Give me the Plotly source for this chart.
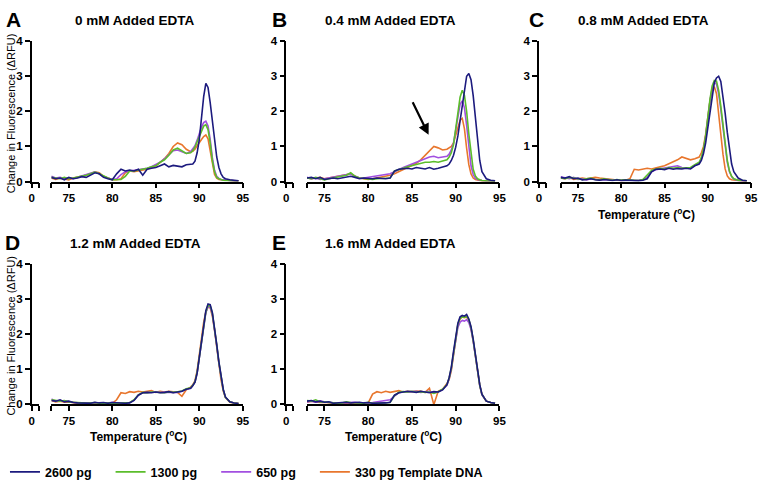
import plotly.graph_objects as go

# temperature grid shared by every melt curve (deg C)
temps = [73, 73.5, 74, 74.5, 75, 75.5, 76, 76.5, 77, 77.5, 78, 78.5, 79, 79.5, 80, 80.5,
         81, 81.5, 82, 82.5, 83, 83.5, 84, 84.5, 85, 85.5, 86, 86.5, 87, 87.5, 88, 88.5,
         89, 89.25, 89.5, 89.75, 90, 90.25, 90.5, 90.75, 91, 91.25, 91.5, 91.75, 92, 92.25,
         92.5, 92.75, 93, 93.5, 94, 94.5]

series_names = ['2600 pg', '1300 pg', '650 pg', '330 pg Template DNA']
panel_titles = ['0 mM Added EDTA', '0.4 mM Added EDTA', '0.8 mM Added EDTA',
                '1.2 mM Added EDTA', '1.6 mM Added EDTA']
panel_letters = ['A', 'B', 'C', 'D', 'E']
y_ticks = [0, 1, 2, 3, 4]
x_ticks = [73, 75, 80, 85, 90, 95]
x_ticktext = ['', '75', '80', '85', '90', '95']

# panel A - 0 mM
a_2600 = [0.12, 0.08, 0.10, 0.05, 0.12, 0.08, 0.10, 0.14, 0.12, 0.18, 0.25, 0.22, 0.12, 0.08, 0.05, 0.22,
          0.35, 0.30, 0.33, 0.30, 0.35, 0.18, 0.35, 0.38, 0.40, 0.45, 0.50, 0.42, 0.46, 0.44, 0.42, 0.48,
          0.48, 0.50, 0.58, 0.82, 1.20, 1.80, 2.42, 2.80, 2.68, 2.25, 1.70, 1.15, 0.70, 0.40, 0.22, 0.12, 0.08,
          0.05, 0.04, 0.02]
a_1300 = [0.12, 0.10, 0.08, 0.12, 0.08, 0.10, 0.12, 0.15, 0.18, 0.22, 0.27, 0.22, 0.15, 0.10, 0.05, 0.05,
          0.06, 0.15, 0.30, 0.30, 0.32, 0.35, 0.38, 0.42, 0.45, 0.55, 0.62, 0.75, 0.90, 0.95, 0.88, 0.80,
          0.82, 0.88, 0.98, 1.12, 1.30, 1.45, 1.58, 1.62, 1.48, 1.10, 0.60, 0.28, 0.12, 0.08, 0.05, 0.04, 0.03,
          0.03, 0.02, 0.02]
a_650 = [0.15, 0.10, 0.12, 0.08, 0.10, 0.08, 0.12, 0.16, 0.20, 0.24, 0.28, 0.22, 0.14, 0.10, 0.06, 0.08,
         0.20, 0.28, 0.30, 0.32, 0.33, 0.36, 0.38, 0.42, 0.48, 0.55, 0.65, 0.78, 0.88, 0.90, 0.85, 0.80,
         0.85, 0.92, 1.02, 1.18, 1.38, 1.55, 1.68, 1.72, 1.58, 1.20, 0.68, 0.32, 0.15, 0.09, 0.06, 0.05, 0.04,
         0.03, 0.02, 0.02]
a_330 = [0.10, 0.06, 0.10, 0.08, 0.05, 0.10, 0.12, 0.15, 0.18, 0.22, 0.28, 0.25, 0.15, 0.10, 0.05, 0.05,
         0.08, 0.25, 0.30, 0.28, 0.30, 0.32, 0.35, 0.40, 0.45, 0.55, 0.65, 0.80, 1.00, 1.10, 1.05, 0.92,
         0.85, 0.86, 0.92, 1.02, 1.12, 1.20, 1.28, 1.33, 1.22, 0.88, 0.45, 0.20, 0.10, 0.06, 0.05, 0.04, 0.03,
         0.03, 0.02, 0.02]

# panel B - 0.4 mM
b_2600 = [0.10, 0.12, 0.08, 0.12, 0.06, 0.08, 0.10, 0.08, 0.10, 0.12, 0.15, 0.12, 0.08, 0.10, 0.08, 0.08,
          0.10, 0.08, 0.08, 0.10, 0.30, 0.35, 0.36, 0.38, 0.36, 0.40, 0.38, 0.36, 0.40, 0.35, 0.38, 0.42,
          0.45, 0.50, 0.60, 0.75, 0.98, 1.30, 1.75, 2.25, 2.70, 3.00, 3.08, 2.90, 2.45, 1.80, 1.15, 0.60, 0.28,
          0.08, 0.04, 0.02]
b_1300 = [0.10, 0.08, 0.12, 0.08, 0.05, 0.08, 0.10, 0.12, 0.15, 0.18, 0.25, 0.15, 0.10, 0.08, 0.08, 0.06,
          0.08, 0.08, 0.10, 0.10, 0.30, 0.35, 0.38, 0.42, 0.45, 0.48, 0.52, 0.55, 0.55, 0.57, 0.55, 0.58,
          0.62, 0.70, 0.82, 1.05, 1.45, 1.95, 2.40, 2.60, 2.45, 2.00, 1.35, 0.75, 0.35, 0.16, 0.08, 0.05, 0.03,
          0.02, 0.02, 0.01]
b_650 = [0.12, 0.08, 0.10, 0.06, 0.08, 0.10, 0.12, 0.14, 0.16, 0.20, 0.22, 0.15, 0.10, 0.10, 0.12, 0.12,
         0.15, 0.18, 0.20, 0.22, 0.28, 0.35, 0.40, 0.45, 0.50, 0.55, 0.62, 0.66, 0.70, 0.72, 0.68, 0.70,
         0.72, 0.78, 0.90, 1.10, 1.45, 1.85, 2.20, 2.30, 2.10, 1.60, 0.95, 0.45, 0.20, 0.10, 0.06, 0.04, 0.03,
         0.02, 0.02, 0.01]
b_330 = [0.10, 0.08, 0.10, 0.12, 0.08, 0.10, 0.12, 0.15, 0.18, 0.20, 0.22, 0.15, 0.10, 0.08, 0.06, 0.08,
         0.10, 0.12, 0.15, 0.18, 0.22, 0.28, 0.32, 0.38, 0.45, 0.52, 0.62, 0.75, 0.90, 1.00, 0.96, 0.90,
         0.92, 0.95, 1.00, 1.10, 1.30, 1.55, 1.75, 1.80, 1.50, 0.95, 0.48, 0.22, 0.10, 0.06, 0.04, 0.03, 0.02,
         0.02, 0.01, 0.01]

# panel C - 0.8 mM
c_2600 = [0.12, 0.10, 0.14, 0.08, 0.10, 0.05, 0.06, 0.08, 0.05, 0.04, 0.06, 0.04, 0.03, 0.05, 0.03, 0.04,
          0.03, 0.03, 0.02, 0.04, 0.08, 0.28, 0.35, 0.36, 0.34, 0.38, 0.35, 0.37, 0.36, 0.38, 0.36, 0.45,
          0.50, 0.60, 0.80, 1.10, 1.55, 2.05, 2.50, 2.82, 2.95, 3.00, 2.85, 2.45, 1.95, 1.40, 0.90, 0.50, 0.28,
          0.10, 0.04, 0.02]
c_1300 = [0.10, 0.08, 0.12, 0.10, 0.08, 0.06, 0.08, 0.10, 0.06, 0.05, 0.08, 0.05, 0.04, 0.06, 0.04, 0.05,
          0.04, 0.03, 0.03, 0.06, 0.18, 0.32, 0.36, 0.38, 0.36, 0.40, 0.38, 0.40, 0.38, 0.40, 0.40, 0.48,
          0.55, 0.68, 0.92, 1.30, 1.85, 2.35, 2.72, 2.88, 2.86, 2.60, 2.15, 1.60, 1.05, 0.60, 0.30, 0.15, 0.08,
          0.04, 0.03, 0.02]
c_650 = [0.14, 0.10, 0.08, 0.12, 0.06, 0.08, 0.05, 0.08, 0.06, 0.04, 0.05, 0.06, 0.04, 0.05, 0.03, 0.04,
         0.05, 0.03, 0.04, 0.05, 0.12, 0.28, 0.34, 0.36, 0.38, 0.40, 0.42, 0.45, 0.40, 0.38, 0.38, 0.46,
         0.52, 0.65, 0.90, 1.28, 1.80, 2.30, 2.66, 2.82, 2.78, 2.50, 2.05, 1.50, 0.98, 0.55, 0.28, 0.14, 0.07,
         0.03, 0.02, 0.02]
c_330 = [0.10, 0.08, 0.12, 0.06, 0.08, 0.10, 0.08, 0.10, 0.12, 0.10, 0.08, 0.06, 0.05, 0.04, 0.03, 0.04,
         0.08, 0.35, 0.33, 0.36, 0.38, 0.36, 0.40, 0.42, 0.45, 0.50, 0.55, 0.62, 0.70, 0.65, 0.62, 0.65,
         0.70, 0.82, 1.00, 1.35, 1.85, 2.30, 2.60, 2.70, 2.50, 2.00, 1.35, 0.78, 0.36, 0.16, 0.08, 0.05, 0.04,
         0.02, 0.02, 0.01]

# panel D - 1.2 mM
d_2600 = [0.10, 0.08, 0.12, 0.06, 0.08, 0.04, 0.03, 0.02, 0.03, 0.02, 0.05, 0.03, 0.04, 0.02, 0.04, 0.03,
          0.02, 0.02, 0.03, 0.10, 0.25, 0.32, 0.33, 0.32, 0.34, 0.32, 0.33, 0.35, 0.32, 0.34, 0.36, 0.42,
          0.45, 0.52, 0.62, 0.88, 1.32, 1.82, 2.32, 2.66, 2.85, 2.83, 2.60, 2.20, 1.70, 1.20, 0.75, 0.42, 0.20,
          0.06, 0.03, 0.01]
d_1300 = [0.12, 0.10, 0.08, 0.10, 0.06, 0.05, 0.03, 0.03, 0.02, 0.03, 0.04, 0.02, 0.03, 0.02, 0.03, 0.02,
          0.02, 0.03, 0.04, 0.12, 0.26, 0.33, 0.32, 0.34, 0.33, 0.34, 0.32, 0.34, 0.33, 0.35, 0.37, 0.43,
          0.46, 0.53, 0.63, 0.90, 1.35, 1.84, 2.30, 2.62, 2.80, 2.80, 2.58, 2.18, 1.68, 1.18, 0.73, 0.40, 0.19,
          0.06, 0.03, 0.01]
d_650 = [0.14, 0.08, 0.10, 0.08, 0.07, 0.04, 0.04, 0.02, 0.03, 0.03, 0.03, 0.03, 0.02, 0.03, 0.05, 0.02,
         0.02, 0.03, 0.04, 0.11, 0.26, 0.32, 0.33, 0.33, 0.34, 0.33, 0.33, 0.34, 0.34, 0.33, 0.36, 0.42,
         0.45, 0.52, 0.62, 0.88, 1.33, 1.82, 2.28, 2.60, 2.76, 2.76, 2.55, 2.15, 1.66, 1.16, 0.72, 0.40, 0.19,
         0.06, 0.03, 0.01]
d_330 = [0.10, 0.06, 0.08, 0.05, 0.06, 0.03, 0.02, 0.03, 0.02, 0.02, 0.03, 0.03, 0.02, 0.03, 0.02, 0.12,
         0.32, 0.30, 0.35, 0.33, 0.36, 0.34, 0.35, 0.38, 0.33, 0.36, 0.34, 0.36, 0.35, 0.33, 0.22, 0.40,
         0.48, 0.55, 0.66, 0.95, 1.40, 1.88, 2.32, 2.62, 2.76, 2.74, 2.50, 2.10, 1.60, 1.10, 0.68, 0.37, 0.18,
         0.05, 0.03, 0.01]

# panel E - 1.6 mM
e_2600 = [0.08, 0.10, 0.06, 0.08, 0.05, 0.06, 0.02, 0.02, 0.04, 0.05, 0.03, 0.04, 0.05, 0.03, 0.04, 0.02,
          0.02, 0.03, 0.03, 0.05, 0.25, 0.32, 0.34, 0.36, 0.35, 0.33, 0.36, 0.34, 0.32, 0.35, 0.34, 0.40,
          0.55, 0.75, 1.05, 1.50, 1.95, 2.30, 2.48, 2.52, 2.50, 2.55, 2.42, 2.20, 1.85, 1.40, 0.95, 0.55, 0.28,
          0.08, 0.04, 0.02]
e_1300 = [0.10, 0.08, 0.12, 0.06, 0.06, 0.04, 0.03, 0.02, 0.03, 0.06, 0.04, 0.03, 0.04, 0.02, 0.05, 0.02,
          0.02, 0.02, 0.03, 0.04, 0.24, 0.33, 0.35, 0.34, 0.36, 0.34, 0.35, 0.33, 0.34, 0.30, 0.35, 0.42,
          0.55, 0.74, 1.02, 1.46, 1.92, 2.27, 2.44, 2.48, 2.47, 2.50, 2.40, 2.18, 1.82, 1.38, 0.92, 0.53, 0.27,
          0.08, 0.04, 0.02]
e_650 = [0.06, 0.08, 0.05, 0.08, 0.06, 0.04, 0.03, 0.02, 0.03, 0.04, 0.03, 0.05, 0.03, 0.02, 0.03, 0.04,
         0.06, 0.08, 0.10, 0.12, 0.22, 0.32, 0.34, 0.35, 0.34, 0.36, 0.33, 0.35, 0.36, 0.32, 0.34, 0.41,
         0.53, 0.72, 1.00, 1.42, 1.86, 2.18, 2.33, 2.38, 2.36, 2.40, 2.32, 2.12, 1.78, 1.35, 0.90, 0.52, 0.26,
         0.08, 0.04, 0.02]
e_330 = [0.05, 0.08, 0.06, 0.04, 0.05, 0.03, 0.02, 0.02, 0.02, 0.03, 0.02, 0.02, 0.03, 0.02, 0.03, 0.28,
         0.35, 0.32, 0.36, 0.33, 0.35, 0.38, 0.34, 0.36, 0.35, 0.37, 0.36, 0.33, 0.45, -0.02, 0.36, 0.42,
         0.58, 0.70, 0.95, 1.38, 1.88, 2.25, 2.42, 2.48, 2.46, 2.48, 2.38, 2.15, 1.80, 1.36, 0.92, 0.53, 0.27,
         0.08, 0.04, 0.02]

# arrow in panel B pointing at the shoulder (tail -> tip, in data units)
arrow_tail = (85.0, 2.3)
arrow_tip = (86.9, 1.33)

panel_data = [
    [a_2600, a_1300, a_650, a_330],
    [b_2600, b_1300, b_650, b_330],
    [c_2600, c_1300, c_650, c_330],
    [d_2600, d_1300, d_650, d_330],
    [e_2600, e_1300, e_650, e_330],
]

colors = ['#1c1a7e', '#5bbd2b', '#a24fe0', '#e8762d']

W, H = 767, 488


def fx(p):
    return p / W


def fy(p):
    return 1 - p / H


# pixel frame of each panel: y-axis x, break end x, main axis start, main axis end, top y, bottom y
frames = [
    (29, 36, 49, 243, 36, 180),
    (287, 294, 308, 503, 36, 180),
    (543, 550, 565, 758, 36, 180),
    (29, 36, 49, 243, 264, 408),
    (287, 294, 308, 503, 264, 408),
]
letter_x = [1, 271, 531, 0, 271]
show_xtitle = [False, False, True, True, True]
legend_x = [2, 109, 216, 316]   # one small legend per series, placed like the original

FONT = 'Liberation Sans, Arial, sans-serif'
axis_style = dict(showline=True, linecolor='black', linewidth=1.5, ticks='outside',
                  ticklen=5, tickwidth=1.5, tickcolor='black', showgrid=False, zeroline=False,
                  tickfont=dict(family=FONT, size=11.5, color='black', weight='bold'))

fig = go.Figure()
layout = {}
annotations = []

for i, (yx, bx, mx0, mx1, ty, by) in enumerate(frames):
    xb = 2 * i + 1   # short axis holding the "0" before the break
    xm = 2 * i + 2   # main temperature axis
    yn = i + 1
    layout[f'xaxis{xb}'] = dict(axis_style, domain=[fx(yx), fx(bx)], range=[0, 1],
                                tickvals=[0, 1], ticktext=['0', ''], anchor=f'y{yn}')
    layout[f'xaxis{xm}'] = dict(axis_style, domain=[fx(mx0), fx(mx1)], range=[73, 95],
                                tickvals=x_ticks, ticktext=x_ticktext, anchor=f'y{yn}')
    layout[f'yaxis{yn}'] = dict(axis_style, domain=[fy(by), fy(ty)], range=[0, 4],
                                tickvals=y_ticks, anchor=f'x{xb}')

    # empty trace so the broken-off "0" axis gets its own subplot
    fig.add_trace(go.Scatter(x=[], y=[], mode='lines', showlegend=False, hoverinfo='skip',
                             xaxis=f'x{xb}', yaxis=f'y{yn}'))

    # orange first so the navy trace ends up on top
    for k in [3, 2, 1, 0]:
        fig.add_trace(go.Scatter(
            x=temps, y=panel_data[i][k], mode='lines',
            line=dict(color=colors[k], width=1.6),
            name=series_names[k], showlegend=(i == 0),
            legend='legend' if k == 0 else f'legend{k + 1}',
            xaxis=f'x{xm}', yaxis=f'y{yn}'
        ))

    annotations.append(dict(x=fx(letter_x[i]), y=fy(ty - 22), xref='paper', yref='paper',
                            text=panel_letters[i], showarrow=False, xanchor='left', yanchor='middle',
                            font=dict(family=FONT, size=21, color='black', weight='bold')))
    annotations.append(dict(x=fx((yx + mx1) / 2 - 2), y=fy(ty - 21), xref='paper', yref='paper',
                            text=panel_titles[i], showarrow=False, xanchor='center', yanchor='middle',
                            font=dict(family=FONT, size=13.5, color='black', weight='bold')))
    if show_xtitle[i]:
        annotations.append(dict(x=fx((yx + mx1) / 2 + 1), y=fy(by + 33), xref='paper', yref='paper',
                                text='Temperature (<sup>o</sup>C)', showarrow=False,
                                xanchor='center', yanchor='middle',
                                font=dict(family=FONT, size=12, color='black', weight='bold')))
    if i in (0, 3):
        annotations.append(dict(x=fx(8), y=fy((ty + by) / 2 + 2), xref='paper', yref='paper',
                                text='Change in Fluorescence (\u0394RFU)', showarrow=False,
                                textangle=-90, xanchor='center', yanchor='middle',
                                font=dict(family=FONT, size=11, color='black')))

annotations.append(dict(x=arrow_tip[0], y=arrow_tip[1], ax=arrow_tail[0], ay=arrow_tail[1],
                        xref='x4', yref='y2', axref='x4', ayref='y2', text='',
                        showarrow=True, arrowhead=2, arrowsize=1, arrowwidth=2.2, arrowcolor='black'))

legend_font = dict(family=FONT, size=12.5, color='black', weight='bold')
for k, lx in enumerate(legend_x):
    key = 'legend' if k == 0 else f'legend{k + 1}'
    layout[key] = dict(x=fx(lx), y=fy(478), xanchor='left', yanchor='middle',
                       font=legend_font, bgcolor='rgba(0,0,0,0)', borderwidth=0)

fig.update_layout(
    **layout,
    annotations=annotations,
    width=W, height=H,
    margin=dict(l=0, r=0, t=0, b=0),
    paper_bgcolor='white', plot_bgcolor='white',
    showlegend=True,
)

# drop the default page margin so the figure sits at the window's top-left corner
fig.write_html('out.html', config={'displayModeBar': False},
               post_script="document.body.style.margin='0px';")
